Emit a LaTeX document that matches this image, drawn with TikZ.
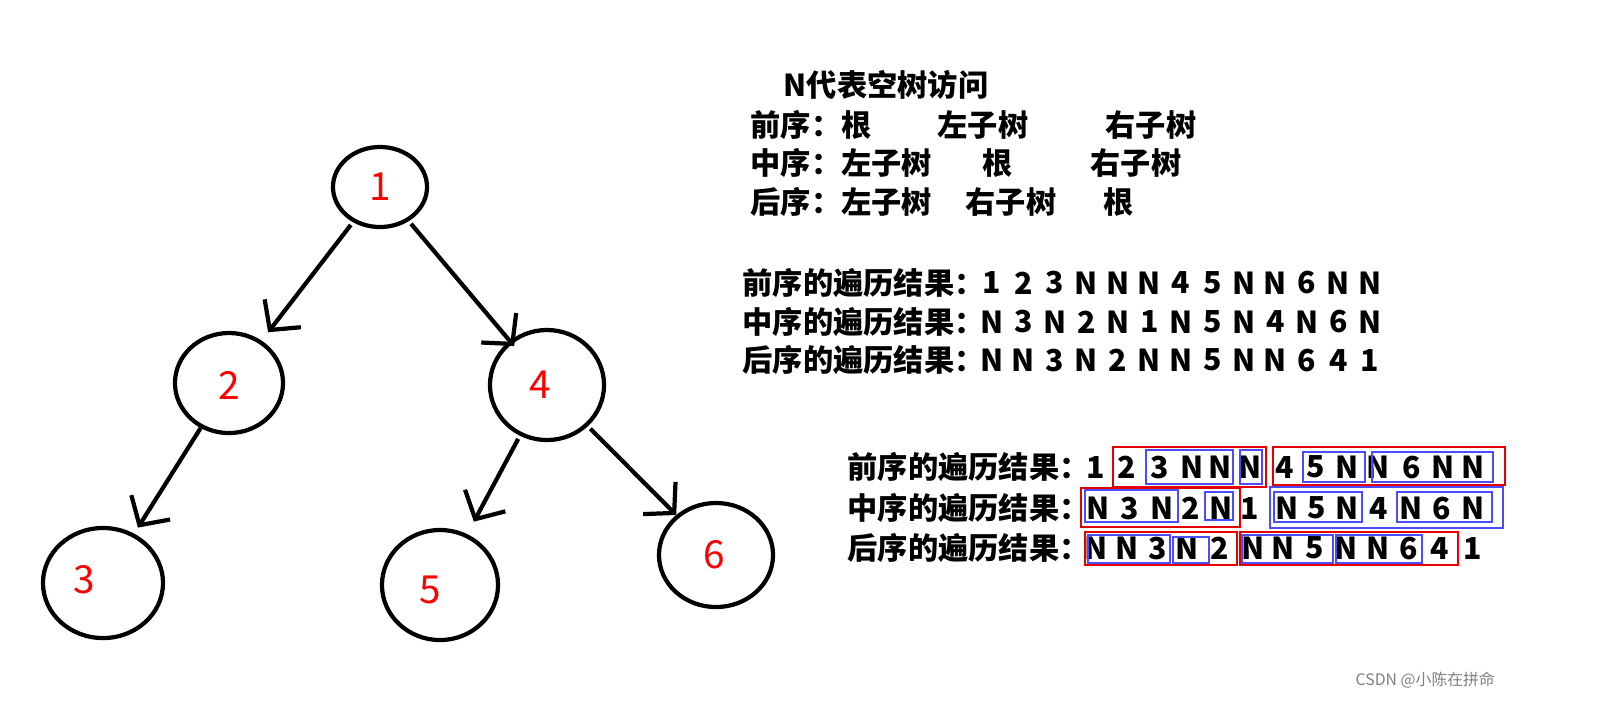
\documentclass[tikz,border=0pt]{standalone}
\usepackage{fontspec}
\setmainfont{Noto Sans CJK SC}
\usetikzlibrary{arrows.meta,shapes.geometric}
\tikzset{
  vertex/.style={draw,line width=1.2pt,ellipse,inner sep=0pt},
  num/.style={red,font=\fontsize{11}{11}\selectfont},
  edge/.style={line width=1.2pt,-{Straight Barb[length=6pt,width=13pt]}},
  txt/.style={anchor=west,inner sep=0pt,font=\fontsize{8.6}{8.6}\selectfont\bfseries},
  tok/.style={inner sep=0pt,font=\fontsize{8.6}{8.6}\selectfont\bfseries},
  redbox/.style={draw=red!90!black,line width=0.8pt},
  bluebox/.style={draw=blue!70!white,line width=0.8pt}
}
\begin{document}
\begin{tikzpicture}[x=0.01cm,y=-0.01cm]
\useasboundingbox (0,0) rectangle (1601,714);
% tree
\node[vertex,minimum width=0.94cm,minimum height=0.8cm] (n1) at (380,187) {};
\node[vertex,minimum width=1.08cm,minimum height=1cm] (n2) at (229,383) {};
\node[vertex,minimum width=1.14cm,minimum height=1.1cm] (n4) at (547,385) {};
\node[vertex,minimum width=1.2cm,minimum height=1.1cm] (n3) at (103,583) {};
\node[vertex,minimum width=1.16cm,minimum height=1.1cm] (n5) at (440,585) {};
\node[vertex,minimum width=1.14cm,minimum height=1.04cm] (n6) at (716,555) {};
\node[num] at (380,187) {1};
\node[num] at (229,385) {2};
\node[num] at (540,385) {4};
\node[num] at (84,580) {3};
\node[num] at (430,590) {5};
\node[num] at (714,555) {6};
\draw[edge,shorten <=1pt,shorten >=3pt] (n1) -- (n2);
\draw[edge,shorten <=1pt,shorten >=-2pt] (n1) -- (n4);
\draw[edge,shorten <=0pt,shorten >=2pt] (n2) -- (n3);
\draw[edge,shorten <=1pt,shorten >=4pt] (n4) -- (n5);
\draw[edge,shorten <=1pt,shorten >=0pt] (n4) -- (n6);
% rules
\node[txt] (t0) at (783,85) {N代表空树访问};
\node[txt] (a1) at (750,125) {前序：根};
\node[txt] at (937,125) {左子树};
\node[txt] at (1105,125) {右子树};
\node[txt] (a2) at (750,163) {中序：左子树};
\node[txt] at (982,163) {根};
\node[txt] at (1090,163) {右子树};
\node[txt] (a3) at (750,202) {后序：左子树};
\node[txt] at (965,202) {右子树};
\node[txt] at (1103,202) {根};
% results
\node[txt] (r1) at (742,283) {前序的遍历结果：};
\node[txt] (r2) at (742,322) {中序的遍历结果：};
\node[txt] (r3) at (742,360) {后序的遍历结果：};
\foreach \t [count=\i from 0] in {1,2,3,N,N,N,4,5,N,N,6,N,N}
  \node[tok] at (992+\i*31.5,283) {\t};
\foreach \t [count=\i from 0] in {N,3,N,2,N,1,N,5,N,4,N,6,N}
  \node[tok] at (992+\i*31.5,322) {\t};
\foreach \t [count=\i from 0] in {N,N,3,N,2,N,N,5,N,N,6,4,1}
  \node[tok] at (992+\i*31.5,360) {\t};
% grouped results
\node[txt] (g1) at (847,467) {前序的遍历结果：};
\node[txt] (g2) at (847,508) {中序的遍历结果：};
\node[txt] (g3) at (847,548) {后序的遍历结果：};
\foreach \t/\x in {1/1096,2/1127,3/1160,N/1192,N/1220,N/1250,4/1285,5/1316,N/1347,N/1378,6/1412,N/1443,N/1473}
  \node[tok] at (\x,467) {\t};
\foreach \t/\x in {N/1098,3/1130,N/1162,2/1191,N/1221,1/1250,N/1287,5/1317,N/1347,4/1379,N/1411,6/1442,N/1473}
  \node[tok] at (\x,508) {\t};
\foreach \t/\x in {N/1096,N/1127,3/1158,N/1187,2/1220,N/1253,N/1283,5/1315,N/1346,N/1378,6/1409,4/1440,1/1473}
  \node[tok] at (\x,548) {\t};
\draw[redbox] (1113,447) rectangle (1266,487);
\draw[bluebox] (1146,450) rectangle (1233,484);
\draw[bluebox] (1240,450) rectangle (1262,484);
\draw[redbox] (1273,447) rectangle (1505,485);
\draw[bluebox] (1303,452) rectangle (1365,482);
\draw[bluebox] (1372,452) rectangle (1493,482);
\draw[redbox] (1081,488) rectangle (1240,527);
\draw[bluebox] (1085,490) rectangle (1178,522);
\draw[bluebox] (1205,492) rectangle (1233,520);
\draw[bluebox] (1270,487) rectangle (1503,528);
\draw[bluebox] (1274,492) rectangle (1362,522);
\draw[bluebox] (1397,492) rectangle (1492,522);
\draw[redbox] (1085,532) rectangle (1237,565);
\draw[bluebox] (1088,535) rectangle (1170,563);
\draw[bluebox] (1173,537) rectangle (1209,563);
\draw[redbox] (1240,532) rectangle (1458,565);
\draw[bluebox] (1242,535) rectangle (1333,563);
\draw[bluebox] (1336,535) rectangle (1422,563);
\node[anchor=west,inner sep=0pt,gray,font=\fontsize{4.5}{4.5}\selectfont] (wm) at (1355,680) {CSDN @小陈在拼命};
\end{tikzpicture}
\end{document}
